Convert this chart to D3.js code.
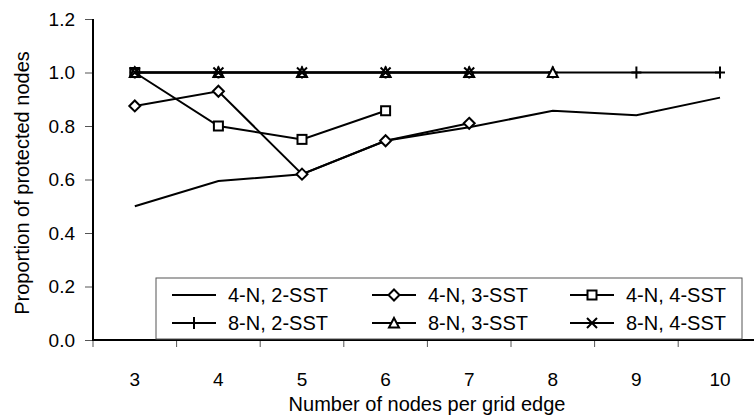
<!DOCTYPE html>
<html>
<head>
<meta charset="utf-8">
<script src="https://cdn.jsdelivr.net/npm/d3@7"></script>
<style>
  body { margin: 0; background: #fff; }
  svg text { font-family: "Liberation Sans", Arial, sans-serif; fill: #000; }
</style>
</head>
<body>
<div id="chart"></div>
<script>
// categories (nodes per grid edge)
var categories = ["3", "4", "5", "6", "7", "8", "9", "10"];
var yTicks = [0, 0.2, 0.4, 0.6, 0.8, 1.0, 1.2];

// series values (null = no point)
var n4sst2 = [0.50, 0.594, 0.62, 0.745, 0.795, 0.857, 0.84, 0.906];
var n4sst3 = [0.875, 0.93, 0.62, 0.745, 0.81, null, null, null];
var n4sst4 = [1.0, 0.80, 0.75, 0.857, null, null, null, null];
var n8sst2 = [1.0, 1.0, 1.0, 1.0, 1.0, 1.0, 1.0, 1.0];
var n8sst3 = [1.0, 1.0, 1.0, 1.0, 1.0, 1.0, null, null];
var n8sst4 = [1.0, 1.0, 1.0, 1.0, 1.0, null, null, null];

var seriesNames = ["4-N, 2-SST", "4-N, 3-SST", "4-N, 4-SST", "8-N, 2-SST", "8-N, 3-SST", "8-N, 4-SST"];
var seriesValues = [n4sst2, n4sst3, n4sst4, n8sst2, n8sst3, n8sst4];
var seriesMarkers = ["none", "diamond", "square", "plus", "triangle", "cross"];

var W = 754, H = 415;
var margin = {left: 93, top: 19, bottom: 75};
var catW = 83.6;

var svg = d3.select("#chart").append("svg")
  .attr("width", W).attr("height", H);

var x = d3.scaleBand().domain(categories)
  .range([margin.left, margin.left + catW * categories.length]);
var y = d3.scaleLinear().domain([0, 1.2]).range([H - margin.bottom, margin.top]);

var cx = function(c){ return x(c) + x.bandwidth() / 2; };

// y axis
var yAxis = svg.append("g")
  .attr("transform", "translate(" + margin.left + ",0)")
  .call(d3.axisLeft(y).tickValues(yTicks).tickFormat(d3.format(".1f")).tickSize(8).tickPadding(10));
yAxis.select(".domain").remove();
yAxis.selectAll("line").attr("stroke", "#555");
yAxis.selectAll("text").style("font-size", "19px");

// x axis labels
var xAxis = svg.append("g")
  .attr("transform", "translate(0," + y(0) + ")")
  .call(d3.axisBottom(x).tickSize(0).tickPadding(33));
xAxis.select(".domain").remove();
xAxis.selectAll("text").style("font-size", "19px");

// x boundary ticks
svg.append("g").selectAll("line")
  .data(categories.concat(["end"]))
  .enter().append("line")
  .attr("x1", function(c){ return c === "end" ? x.range()[1] : x(c); })
  .attr("x2", function(c){ return c === "end" ? x.range()[1] : x(c); })
  .attr("y1", y(0)).attr("y2", y(0) + 7)
  .attr("stroke", "#555");

// axis lines
svg.append("line")
  .attr("x1", margin.left).attr("x2", margin.left)
  .attr("y1", y(1.2)).attr("y2", y(0))
  .attr("stroke", "#000").attr("stroke-width", 2);
svg.append("line")
  .attr("x1", margin.left - 1).attr("x2", x.range()[1])
  .attr("y1", y(0)).attr("y2", y(0))
  .attr("stroke", "#000").attr("stroke-width", 2);

// axis titles
svg.append("text")
  .attr("x", 427).attr("y", 411)
  .attr("text-anchor", "middle")
  .style("font-size", "20px")
  .text("Number of nodes per grid edge");
svg.append("text")
  .attr("transform", "translate(29,183) rotate(-90)")
  .attr("text-anchor", "middle")
  .style("font-size", "20px")
  .text("Proportion of protected nodes");

// marker drawing
function drawMarker(g, type){
  if(type === "diamond"){
    g.append("path").attr("d", "M0,-5.5L5.5,0L0,5.5L-5.5,0Z")
      .attr("fill", "#fff").attr("stroke", "#000").attr("stroke-width", 2);
  }else if(type === "square"){
    g.append("rect").attr("x", -4.5).attr("y", -4.5).attr("width", 9).attr("height", 9)
      .attr("fill", "#fff").attr("stroke", "#000").attr("stroke-width", 2);
  }else if(type === "triangle"){
    g.append("path").attr("d", "M0,-5L5,4.5L-5,4.5Z")
      .attr("fill", "#fff").attr("stroke", "#000").attr("stroke-width", 2);
  }else if(type === "cross"){
    g.append("path").attr("d", "M-5,-5L5,5M-5,5L5,-5")
      .attr("fill", "none").attr("stroke", "#000").attr("stroke-width", 2);
  }else if(type === "plus"){
    g.append("path").attr("d", "M0,-6L0,6M-5,0L5,0")
      .attr("fill", "none").attr("stroke", "#000").attr("stroke-width", 2);
  }
}

var line = d3.line()
  .defined(function(d){ return d.v !== null; })
  .x(function(d){ return cx(d.c); })
  .y(function(d){ return y(d.v); });

seriesValues.forEach(function(vals, i){
  var pts = vals.map(function(v, j){ return {c: categories[j], v: v}; });
  svg.append("path")
    .datum(pts)
    .attr("d", line)
    .attr("fill", "none").attr("stroke", "#000").attr("stroke-width", 2);
  if(seriesMarkers[i] !== "none"){
    pts.filter(function(d){ return d.v !== null; }).forEach(function(d){
      var g = svg.append("g").attr("transform", "translate(" + cx(d.c) + "," + y(d.v) + ")");
      drawMarker(g, seriesMarkers[i]);
    });
  }
});

// legend
var lg = svg.append("g");
lg.append("rect")
  .attr("x", 156).attr("y", 278).attr("width", 586).attr("height", 61)
  .attr("fill", "#fff").attr("stroke", "#555").attr("stroke-width", 1);
var colX = [172, 372, 570];
var rowY = [295, 323];
seriesNames.forEach(function(name, i){
  var lx = colX[i % 3], ly = rowY[Math.floor(i / 3)];
  lg.append("line")
    .attr("x1", lx).attr("x2", lx + 44).attr("y1", ly).attr("y2", ly)
    .attr("stroke", "#000").attr("stroke-width", 2);
  var g = lg.append("g").attr("transform", "translate(" + (lx + 22) + "," + ly + ")");
  drawMarker(g, seriesMarkers[i]);
  lg.append("text")
    .attr("x", lx + 56).attr("y", ly).attr("dy", "0.35em")
    .style("font-size", "20px")
    .text(name);
});
</script>
</body>
</html>
